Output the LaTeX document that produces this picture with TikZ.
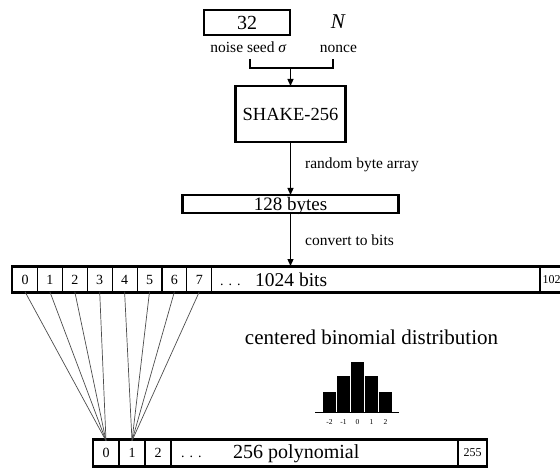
\documentclass[tikz,border=0pt]{standalone}
\usepackage{fontspec}
\setmainfont{Liberation Serif}
\usetikzlibrary{arrows.meta,positioning}

\newcommand{\fs}[1]{\fontsize{#1}{#1}\selectfont}

\tikzset{
  box/.style={draw, line width=2.6pt, inner sep=0pt, outer sep=0pt, text depth=0pt},
  cell/.style={draw, line width=1.1pt, inner sep=0pt, outer sep=0pt, minimum height=24.5pt},
  flow/.style={-{Triangle[length=7pt,width=6pt]}, line width=1.2pt},
  link/.style={draw=black!70, line width=0.7pt},
  lbl/.style={font=\fs{15.5}, inner sep=0pt, anchor=base},
}

\begin{document}
\begin{tikzpicture}[x=1pt,y=-1pt]
\clip (0,0) rectangle (560,468);
% inputs
\node[box, minimum width=86pt, minimum height=25pt, font=\fs{20}] (seedbox) at (247,22.5) {32};
\node[font=\fs{21}\itshape, inner sep=0pt, anchor=base] (nbox) at (338,29) {N};
\node[lbl] (seed) at (248.5,53) {noise seed \textit{σ}};
\node[lbl] (nonce) at (338.5,53) {nonce};
\coordinate (sl) at (250,59);
\coordinate (nr) at (333,59);
\coordinate (join) at (290.5,68);
\draw[line width=1.2pt] (sl) |- (join) -| (nr);

% hash
\node[box, minimum width=110pt, minimum height=56pt, font=\fs{18.5}] (shake) at (290.5,114) {SHAKE-256};
\node[box, minimum width=216pt, minimum height=18pt, font=\fs{19}] (bytes) at (290.5,204) {128 bytes};
\draw[flow] (join) -- (shake.north);
\draw[flow] (shake) -- (bytes);
\node[lbl, anchor=base west] (rba) at (305,168) {random byte array};
\node[lbl, anchor=base west] (ctb) at (305,245) {convert to bits};

% bit array
\foreach \i in {0,...,7}
  \node[cell, minimum width=24.9pt, font=\fs{14}] (b\i) at ({25+24.9*\i},279.5) {\i};
\node[cell, minimum width=328.3pt] (b8) at (375.85,279.5) {};
\node[cell, minimum width=40pt] (b9) at (560,279.5) {};
\node[font=\fs{12}, inner sep=0pt, anchor=base west] (blast) at (542.5,283.5) {102};
\node[font=\fs{14}, inner sep=0pt, anchor=base west] (bdots) at (220,285) {.\hspace{5pt}.\hspace{5pt}.};
\node[font=\fs{19.5}, inner sep=0pt, anchor=base west] (btxt) at (255,286) {1024 bits};
\node[box, minimum width=568pt, minimum height=27pt] (bits) at (296,279.5) {};
\draw[flow] (bytes.south) -- (bytes.south |- bits.north);

% polynomial
\foreach \i in {0,1,2}
  \node[cell, minimum width=26pt, font=\fs{14}] (p\i) at ({106+26*\i},453) {\i};
\node[cell, minimum width=287pt, minimum height=25.5pt] (p3) at (314.5,453) {};
\node[cell, minimum width=29pt, minimum height=25.5pt, font=\fs{12}] (p4) at (472.5,453) {255};
\node[font=\fs{14}, inner sep=0pt, anchor=base west] (pdots) at (181,457) {.\hspace{5pt}.\hspace{5pt}.};
\node[font=\fs{20}, inner sep=0pt, anchor=base west] (ptxt) at (233,458) {256 polynomial};
\node[box, minimum width=394pt, minimum height=28pt] (poly) at (290,453) {};

% sampling
\foreach \i in {0,...,3}
  \draw[link] (b\i.south) -- (p0.north);
\foreach \i in {4,...,7}
  \draw[link] (b\i.south) -- (p1.north);

% distribution
\node[font=\fs{21}, inner sep=0pt, anchor=base] (cbd) at (371.5,344) {centered binomial distribution};
\foreach \k/\h in {-2/20,-1/36,0/50,1/36,2/20}
  \fill ({357.5+14*\k-6.25},412) rectangle ++(12.5,-\h);
\draw[line width=1.5pt] (315,412.5) -- (399,412.5);
\foreach \k in {-2,-1,0,1,2}
  \node[font=\fs{7.5}, inner sep=0pt, anchor=base] at ({357.5+14*\k},424) {\k};
\end{tikzpicture}
\end{document}
